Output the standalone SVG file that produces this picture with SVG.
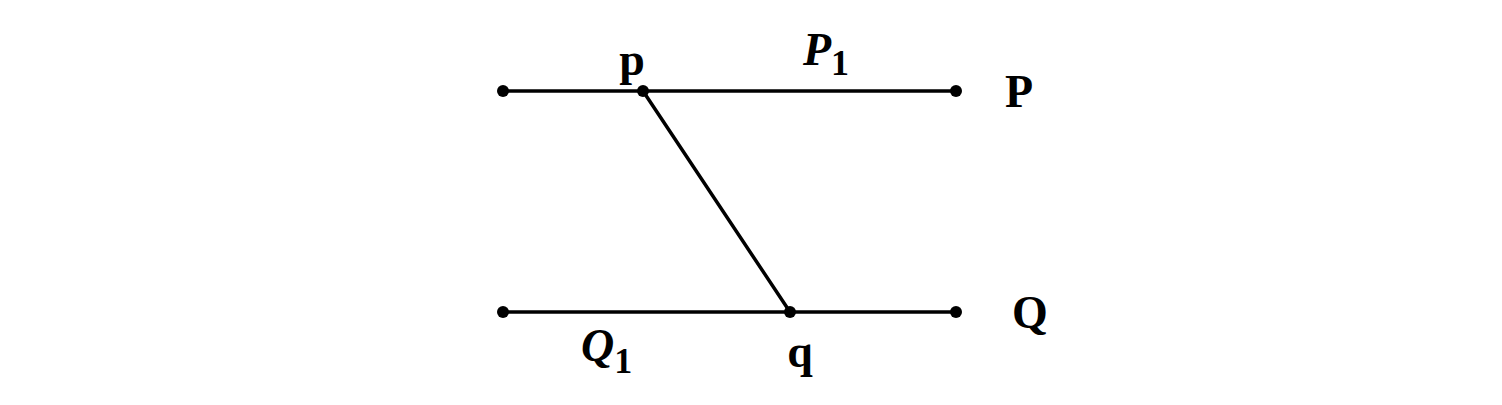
<svg xmlns="http://www.w3.org/2000/svg" width="1502" height="405" viewBox="0 0 1502 405">
<style>
.ln{stroke:#000;stroke-width:3.5;fill:none;stroke-linecap:round}
.dt{fill:#000}
.t{font-family:"Liberation Serif",serif;font-weight:bold;font-size:46px;fill:#000}
.it{font-style:italic}
.sub{font-size:36px}
</style>
<rect width="1502" height="405" fill="#fff"/>
<g id="connectors">
<line class="ln" x1="503" y1="91" x2="956" y2="91"/>
<line class="ln" x1="503" y1="312" x2="956" y2="312"/>
<line class="ln" x1="643" y1="91" x2="790" y2="312"/>
</g>
<g id="P-left"><circle class="dt" cx="503" cy="91" r="6"/></g>
<g id="p"><circle class="dt" cx="643" cy="91" r="6"/><text class="t" x="632" y="75" text-anchor="middle">p</text></g>
<g id="P-right"><circle class="dt" cx="956" cy="91" r="6"/></g>
<g id="P"><text class="t" x="1019" y="107" text-anchor="middle">P</text></g>
<g id="P1"><text class="t" x="803" y="65"><tspan class="it">P</tspan><tspan class="sub" dy="10">1</tspan></text></g>
<g id="Q-left"><circle class="dt" cx="503" cy="312" r="6"/></g>
<g id="q"><circle class="dt" cx="790" cy="312" r="6"/><text class="t" x="800" y="367" text-anchor="middle">q</text></g>
<g id="Q-right"><circle class="dt" cx="956" cy="312" r="6"/></g>
<g id="Q"><text class="t" x="1030" y="328" text-anchor="middle">Q</text></g>
<g id="Q1"><text class="t" x="581" y="361"><tspan class="it">Q</tspan><tspan class="sub" dy="12">1</tspan></text></g>
</svg>
